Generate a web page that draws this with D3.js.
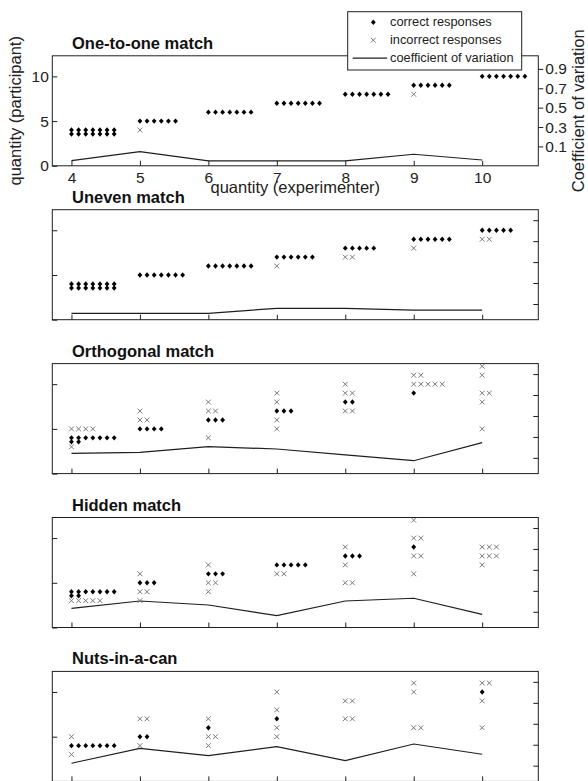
<!DOCTYPE html>
<html><head><meta charset="utf-8">
<script src="https://cdn.jsdelivr.net/npm/d3@7"></script>
<style>
body{margin:0;background:#fff}
svg{display:block}
text{font-family:"Liberation Sans",Arial,Helvetica,sans-serif}
</style>
</head><body>
<svg id="c" width="588" height="781"></svg>
<script>
// ---------- data ----------
const quantities = [4, 5, 6, 7, 8, 9, 10];
const panelTitles = ["One-to-one match", "Uneven match", "Orthogonal match", "Hidden match", "Nuts-in-a-can"];
const leftTicks = [0, 5, 10];
const cvTicks = [0.1, 0.3, 0.5, 0.7, 0.9];
const legendLabels = ["correct responses", "incorrect responses", "coefficient of variation"];

// responses: [quantity (experimenter), quantity (participant), number of responses]
const correctOneToOne   = [[4,4,14],[5,5,6],[6,6,7],[7,7,7],[8,8,7],[9,9,6],[10,10,7]];
const incorrectOneToOne = [[5,4,1],[9,8,1]];
const cvOneToOne        = [-0.047, 0.046, -0.05, -0.05, -0.05, 0.019, -0.04];

const correctUneven   = [[4,4,14],[5,5,7],[6,6,7],[7,7,6],[8,8,5],[9,9,6],[10,10,5]];
const incorrectUneven = [[7,6,1],[8,7,2],[9,8,1],[10,9,2]];
const cvUneven        = [0.011, 0.011, 0.011, 0.059, 0.059, 0.042, 0.042];

const correctOrthogonal   = [[4,4,9],[5,5,4],[6,6,3],[7,7,3],[8,8,2],[9,9,1]];
const incorrectOrthogonal = [[4,5,4],[4,3,1],[5,7,1],[5,6,2],[6,8,1],[6,7,2],[6,4,1],
  [7,9,1],[7,8,1],[7,6,1],[7,5,1],[8,10,1],[8,9,2],[8,7,2],[9,11,2],[9,10,5],
  [10,12,1],[10,11,1],[10,9,2],[10,8,1],[10,5,1]];
const cvOrthogonal        = [0.144, 0.153, 0.207, 0.185, 0.128, 0.073, 0.245];

const correctHidden   = [[4,4,9],[5,5,3],[6,6,3],[7,7,5],[8,8,3],[9,9,1]];
const incorrectHidden = [[4,3,5],[5,6,1],[5,4,2],[5,3,1],[6,7,1],[6,5,2],[6,4,1],[7,6,2],
  [8,9,1],[8,7,1],[8,5,2],[9,12,1],[9,10,2],[9,8,2],[9,6,1],[10,9,3],[10,8,3],[10,7,1]];
const cvHidden        = [0.133, 0.203, 0.165, 0.063, 0.203, 0.229, 0.076];

const correctNuts   = [[4,4,7],[5,5,2],[6,6,1],[7,7,1],[10,10,1]];
const incorrectNuts = [[4,5,1],[4,3,1],[5,7,2],[5,4,1],[6,7,1],[6,5,2],[6,4,1],[7,10,1],
  [7,8,1],[7,6,1],[7,5,1],[8,9,2],[8,7,2],[9,11,1],[9,10,1],[9,6,2],[10,11,2],[10,9,1],[10,6,1]];
const cvNuts        = [0.123, 0.266, 0.196, 0.281, 0.148, 0.307, 0.209];

const panels = [
  {correct: correctOneToOne, incorrect: incorrectOneToOne, cv: cvOneToOne},
  {correct: correctUneven, incorrect: incorrectUneven, cv: cvUneven},
  {correct: correctOrthogonal, incorrect: incorrectOrthogonal, cv: cvOrthogonal},
  {correct: correctHidden, incorrect: incorrectHidden, cv: cvHidden},
  {correct: correctNuts, incorrect: incorrectNuts, cv: cvNuts}
];

// ---------- layout ----------
const left = 52.3, right = 538.3;
const panelTop0 = 55.8, panelStep = 153.9, panelH = 110;
const offsetStep = 0.104;   // horizontal spread of repeated responses
const perRow = 7, wrapDrop = 0.45;
const ink = "#1e1e1e", crossColor = "#7a7a7a";

const svg = d3.select("#c");
const x = d3.scaleLinear().domain([3.72, 10.82]).range([left, right]);

const diamondPath = "M0,-2.7L2.4,0L0,2.7L-2.4,0Z";
const crossPath = "M-2.4,-2.4L2.4,2.4M-2.4,2.4L2.4,-2.4";

function expand(arr) {
  return arr.flatMap(([q, v, n]) => d3.range(n).map(i => ({q, v, k: i % perRow, row: Math.floor(i / perRow)})));
}

function styleAxis(g, size) {
  g.select(".domain").remove();
  g.selectAll(".tick line").attr("stroke", ink).attr("stroke-width", 1);
  g.selectAll(".tick text").attr("fill", "#222").style("font-size", size + "px");
}

panels.forEach((pd, p) => {
  const top = panelTop0 + p * panelStep, bottom = top + panelH;
  const y = d3.scaleLinear().domain([0, 12.3]).range([bottom, top]);
  const yR = d3.scaleLinear().domain(p === 0 ? [-0.1, 1.035] : [-0.05, 1.0]).range([bottom, top]);
  const g = svg.append("g");
  const labelled = p === 0;

  g.append("rect").attr("x", left).attr("y", top).attr("width", right - left).attr("height", panelH)
    .attr("fill", "none").attr("stroke", ink).attr("stroke-width", 1);

  g.append("g").attr("transform", `translate(0,${bottom})`)
    .call(d3.axisBottom(x).tickValues(quantities).tickSize(-5).tickPadding(6.5)
      .tickFormat(labelled ? d3.format("d") : () => ""))
    .call(a => styleAxis(a, 15.5));

  g.append("g").attr("transform", `translate(${left},0)`)
    .call(d3.axisLeft(y).tickValues(leftTicks).tickSize(-5).tickPadding(3.5)
      .tickFormat(labelled ? d3.format("d") : () => ""))
    .call(a => styleAxis(a, 15.5));

  g.append("g").attr("transform", `translate(${right},0)`)
    .call(d3.axisRight(yR).tickValues(cvTicks).tickSize(labelled ? 5 : -5).tickPadding(2)
      .tickFormat(labelled ? d3.format(".1f") : () => ""))
    .call(a => styleAxis(a, 15.5));

  g.append("text").attr("x", 72).attr("y", top - 7)
    .style("font-size", "16.5px").style("font-weight", "bold").attr("fill", "#111")
    .text(panelTitles[p]);

  g.append("path")
    .datum(quantities.map((q, i) => [q, pd.cv[i]]))
    .attr("d", d3.line().x(d => x(d[0])).y(d => yR(d[1])))
    .attr("fill", "none").attr("stroke", ink).attr("stroke-width", 1.2);

  g.selectAll(".inc").data(expand(pd.incorrect)).join("path")
    .attr("d", crossPath)
    .attr("transform", d => `translate(${x(d.q + d.k * offsetStep)},${y(d.v - d.row * wrapDrop)})`)
    .attr("stroke", crossColor).attr("stroke-width", 1).attr("fill", "none");

  g.selectAll(".cor").data(expand(pd.correct)).join("path")
    .attr("d", diamondPath)
    .attr("transform", d => `translate(${x(d.q + d.k * offsetStep)},${y(d.v - d.row * wrapDrop)})`)
    .attr("fill", "#000");
});

// axis labels
const p0mid = panelTop0 + panelH / 2;
svg.append("text").attr("x", (left + right) / 2).attr("y", 193)
  .attr("text-anchor", "middle").style("font-size", "16.5px").attr("fill", "#222")
  .text("quantity (experimenter)");
svg.append("text").attr("transform", `translate(21,${p0mid}) rotate(-90)`)
  .attr("text-anchor", "middle").style("font-size", "16.5px").attr("fill", "#222")
  .text("quantity (participant)");
svg.append("text").attr("transform", `translate(584,${p0mid}) rotate(-90)`)
  .attr("text-anchor", "middle").style("font-size", "16.5px").attr("fill", "#222")
  .text("Coefficient of variation");

// legend
const lg = svg.append("g").attr("transform", "translate(347.7,11.7)");
lg.append("rect").attr("width", 174).attr("height", 58.3).attr("fill", "#fff").attr("stroke", ink);
const rowY = [10.5, 28.5, 46.5];
lg.append("path").attr("d", diamondPath).attr("transform", `translate(25.6,${rowY[0]})`).attr("fill", "#000");
lg.append("path").attr("d", crossPath).attr("transform", `translate(25.6,${rowY[1]})`)
  .attr("stroke", crossColor).attr("fill", "none");
lg.append("line").attr("x1", 5).attr("x2", 39.5).attr("y1", rowY[2]).attr("y2", rowY[2])
  .attr("stroke", ink).attr("stroke-width", 1.2);
lg.selectAll(".lt").data(legendLabels).join("text")
  .attr("x", 42.3).attr("y", (d, i) => rowY[i] + 4.3)
  .style("font-size", "12.8px").attr("fill", "#222").text(d => d);
</script>
</body></html>
